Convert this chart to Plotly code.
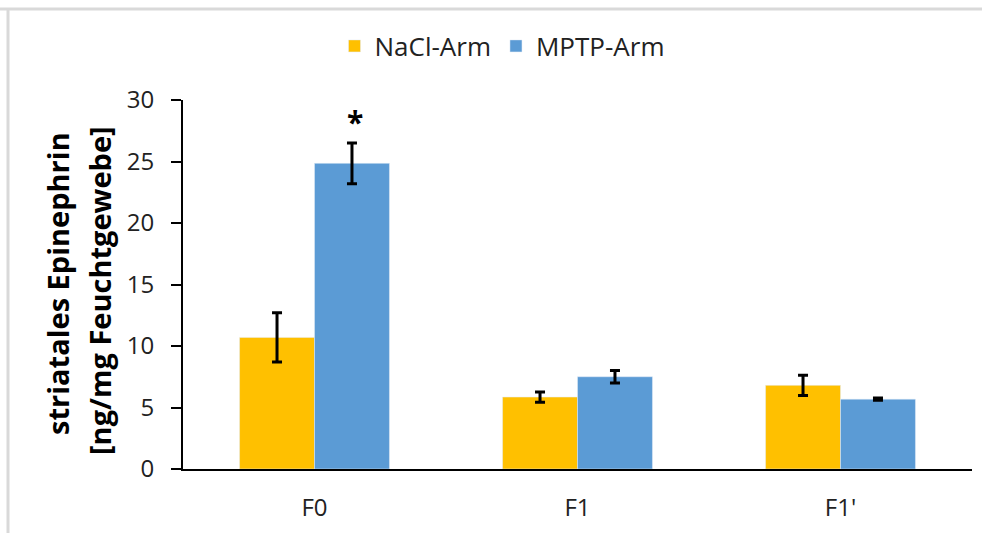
import plotly.graph_objects as go

categories = ["F0", "F1", "F1'"]
nacl = [10.7, 5.85, 6.8]
nacl_err = [2.0, 0.42, 0.82]
mptp = [24.85, 7.5, 5.68]
mptp_err = [1.65, 0.5, 0.1]
yticks = [0, 5, 10, 15, 20, 25, 30]
title_lines = ["striatales Epinephrin", "[ng/mg Feuchtgewebe]"]

FONT = "Open Sans"
L, R, T, B = 183, 10, 100, 64
W, H = 982, 533
pw, ph = W - L - R, H - T - B

def px_x(x):
    return (x - L) / pw

def px_y(y):
    return (H - B - y) / ph

fig = go.Figure()
fig.add_trace(go.Bar(
    name="NaCl-Arm", x=categories, y=nacl, marker_color="#FFC000",
    error_y=dict(type="data", array=nacl_err, color="black", thickness=3, width=5),
))
fig.add_trace(go.Bar(
    name="MPTP-Arm", x=categories, y=mptp, marker_color="#5B9BD5",
    error_y=dict(type="data", array=mptp_err, color="black", thickness=3, width=5),
))
fig.add_annotation(x=categories[0], y=mptp[0] + mptp_err[0], xshift=40, yshift=22,
                   text="<b>*</b>", showarrow=False,
                   font=dict(size=30, color="black", family=FONT))
for txt, cx, cy in zip(title_lines, [57, 99], [284, 291]):
    fig.add_annotation(x=px_x(cx), y=px_y(cy), xref="paper", yref="paper", text="<b>%s</b>" % txt,
                       textangle=-90, showarrow=False, xanchor="center", yanchor="middle",
                       font=dict(size=29, color="black", family=FONT))

fig.update_layout(
    width=W, height=H,
    margin=dict(l=L, r=R, t=T, b=B, autoexpand=False),
    paper_bgcolor="white", plot_bgcolor="white",
    barmode="group", bargap=0.43, bargroupgap=0,
    font=dict(family=FONT, color="#222222", size=24),
    showlegend=True,
    legend=dict(orientation="h", x=px_x(502), xanchor="center", y=px_y(46), yanchor="middle",
                font=dict(size=26, family=FONT, color="#222222"), itemwidth=30,
                traceorder="normal", bgcolor="rgba(0,0,0,0)"),
    xaxis=dict(showline=True, linecolor="black", linewidth=2, ticks="",
               tickfont=dict(size=24), showgrid=False, ticklabelstandoff=16),
    yaxis=dict(range=[0, 30], tickvals=yticks, showline=True, linecolor="black", linewidth=2,
               ticks="outside", ticklen=10, tickwidth=2, tickcolor="black", showgrid=False,
               zeroline=False, tickfont=dict(size=24), ticklabelstandoff=12),
    shapes=[
        dict(type="line", xref="paper", yref="paper", x0=px_x(0), x1=px_x(W), y0=px_y(9), y1=px_y(9),
             line=dict(color="#D9D9D9", width=3), layer="below"),
        dict(type="line", xref="paper", yref="paper", x0=px_x(8), x1=px_x(8), y0=px_y(9), y1=px_y(H),
             line=dict(color="#D9D9D9", width=3), layer="below"),
    ],
)
fig.write_html("out.html", config={"displayModeBar": False},
               post_script="document.body.style.margin='0';document.body.style.overflow='hidden';")
